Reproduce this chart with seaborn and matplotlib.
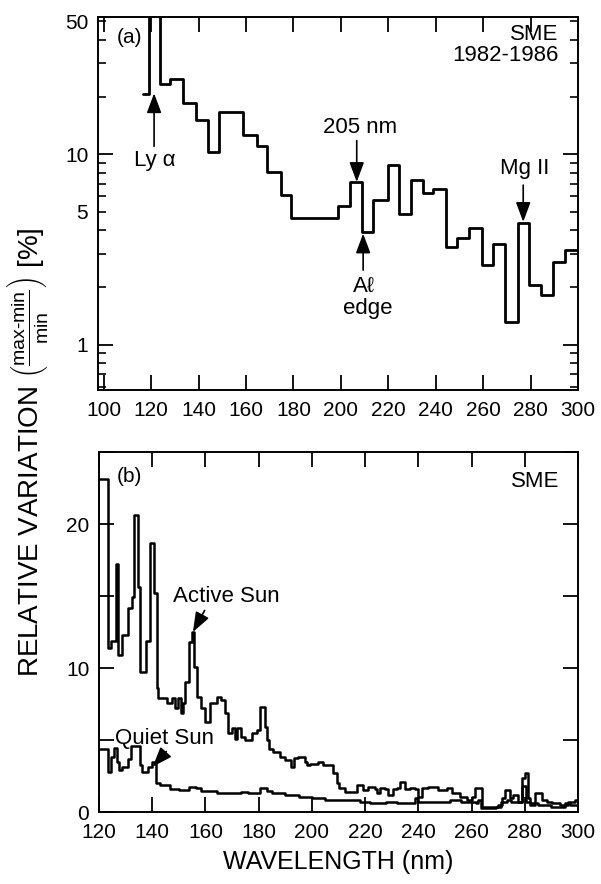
import numpy as np
import pandas as pd
import matplotlib
matplotlib.use("Agg")
import matplotlib.pyplot as plt
import seaborn as sns
from matplotlib.ticker import FixedLocator, FuncFormatter, NullFormatter

# ---------------- data ----------------
# panel (a): SME 1982-1986 relative variation, step bins (left edges) + values [%]
a_wl = [116.7, 118.9, 123.8, 128.0, 133.6, 139.0, 144.1, 148.8, 158.9, 164.6, 168.8,
        174.8, 179.0, 199.0, 203.9, 209.1, 213.6, 219.9, 224.5, 229.6, 234.5, 239.0,
        244.4, 248.9, 254.2, 259.4, 264.3, 269.2, 274.6, 279.5, 284.3, 289.6, 294.5]
a_var = [20.8, 60.0, 23.5, 24.8, 18.5, 15.1, 10.3, 16.7, 12.6, 11.1, 8.07,
         6.14, 4.60, 5.33, 7.15, 3.88, 5.73, 8.76, 4.84, 7.30, 6.26, 6.53,
         3.26, 3.61, 4.10, 2.61, 3.36, 1.32, 4.36, 2.05, 1.82, 2.72, 3.13]
a_end = 300.0

# panel (b): active sun
act_wl = [120.0, 123.3, 124.5, 126.3, 127.3, 128.5, 131.0, 132.3, 133.3, 134.5, 135.4, 137.5,
          139.2, 140.7, 141.7, 142.2, 145.4, 147.3, 148.6, 149.8, 150.8, 151.7, 152.3, 153.9,
          154.8, 155.8, 156.7, 158.4, 159.8, 161.7, 164.2, 165.8, 167.3, 168.6, 169.9, 171.1,
          171.7, 173.4, 174.9, 177.4, 179.4, 180.5, 182.4, 183.0, 183.9, 185.5, 188.0, 189.9,
          192.2, 193.4, 194.8, 197.4, 198.0, 199.3, 202.4, 204.3, 208.0, 209.3, 210.2, 212.4,
          216.8, 219.3, 221.2, 223.7, 224.3, 225.5, 227.4, 228.6, 230.5, 231.8, 233.1, 235.0,
          236.9, 238.8, 240.0, 241.3, 243.8, 247.5, 250.7, 252.6, 255.7, 258.2, 260.1, 261.4,
          263.8, 270.0, 271.3, 272.6, 274.5, 275.7, 277.6, 279.1, 279.9, 281.1, 282.0, 283.8,
          286.4, 288.2, 290.1, 293.3, 296.4, 298.9]
act_var = [23.1, 11.4, 11.9, 17.2, 10.9, 12.3, 14.2, 14.9, 20.6, 15.6, 9.7, 11.9,
           18.7, 15.2, 8.6, 7.9, 7.6, 7.9, 7.2, 7.9, 6.9, 7.6, 9.0, 11.8,
           12.5, 10.1, 8.0, 7.2, 6.25, 7.6, 8.0, 7.8, 6.9, 5.5, 5.8, 5.1,
           5.8, 5.2, 5.0, 5.5, 5.7, 7.3, 5.9, 5.0, 4.4, 4.2, 3.85, 3.6,
           3.15, 3.75, 3.85, 3.5, 3.26, 3.35, 3.5, 3.26, 2.7, 2.0, 1.67, 1.4,
           1.9, 1.53, 1.76, 1.58, 1.3, 1.65, 1.58, 1.2, 1.58, 1.65, 2.1, 1.58,
           1.65, 1.58, 1.06, 1.65, 1.76, 1.53, 1.65, 1.3, 1.06, 0.83, 1.06, 1.65,
           0.37, 0.49, 0.95, 1.53, 0.95, 1.2, 0.72, 2.34, 2.7, 0.95, 0.49, 1.3,
           0.83, 0.72, 0.6, 0.49, 0.72, 0.83]
# panel (b): quiet sun
qui_wl = [120.0, 123.3, 124.5, 125.8, 126.6, 127.5, 128.5, 131.0, 132.0, 135.4, 136.3, 138.5,
          139.8, 141.5, 143.0, 146.7, 150.0, 153.9, 156.5, 158.4, 164.4, 168.0, 173.4, 176.0,
          180.5, 183.0, 185.0, 190.0, 195.0, 200.0, 205.0, 212.0, 218.0, 222.0, 228.0, 232.0,
          238.8, 240.0, 246.0, 252.0, 256.0, 261.5, 262.5, 263.5, 269.0, 271.0, 273.5, 275.0,
          279.1, 280.5, 282.0, 285.0, 290.0, 295.0, 297.0]
qui_var = [4.4, 2.8, 3.85, 4.45, 3.5, 2.9, 3.15, 3.7, 4.6, 3.26, 2.8, 3.15,
           3.5, 2.0, 1.9, 1.6, 1.5, 1.75, 1.65, 1.45, 1.35, 1.35, 1.4, 1.3,
           1.65, 1.45, 1.3, 1.15, 1.06, 1.0, 0.85, 0.8, 0.72, 0.62, 0.7, 0.6,
           0.95, 0.7, 0.72, 0.83, 0.72, 0.6, 0.83, 0.28, 0.37, 0.72, 0.83, 0.72,
           1.8, 0.72, 0.6, 0.49, 0.37, 0.6, 0.49]
b_end = 300.0

a_xticks = [100, 120, 140, 160, 180, 200, 220, 240, 260, 280, 300]
b_xticks = [120, 140, 160, 180, 200, 220, 240, 260, 280, 300]
a_ylabels = [1, 5, 10, 50]
b_yticks = [0, 5, 10, 15, 20, 25]
b_ylabels = [0, 10, 20]


def steps(edges, vals, end):
    return pd.DataFrame({"wl": list(edges) + [end], "var": list(vals) + [vals[-1]]})


# ---------------- style ----------------
sns.set_style("ticks")
plt.rcParams["font.family"] = ["Liberation Sans", "DejaVu Sans"]
plt.rcParams["mathtext.fontset"] = "custom"
plt.rcParams["mathtext.rm"] = "Liberation Sans"
plt.rcParams["mathtext.it"] = "Liberation Sans:italic"
plt.rcParams["mathtext.bf"] = "Liberation Sans:bold"
plt.rcParams["axes.linewidth"] = 1.4
for key in ["text.color", "axes.labelcolor", "xtick.color", "ytick.color", "axes.edgecolor"]:
    plt.rcParams[key] = "black"

fig = plt.figure(figsize=(6.01, 8.84), dpi=100)
axa = fig.add_axes([98 / 601, 1 - 390 / 884, 480 / 601, 373 / 884])
axb = fig.add_axes([99 / 601, 1 - 812 / 884, 479 / 601, 360 / 884])

LBL = 15
ANN = 16
arrow = dict(arrowstyle="-|>,head_width=0.28,head_length=0.75", color="black",
             lw=1.2, shrinkA=0, shrinkB=0, mutation_scale=16)

# ---------- panel (a) ----------
sns.lineplot(data=steps(a_wl, a_var, a_end), x="wl", y="var", ax=axa,
             drawstyle="steps-post", color="black", lw=2.0, estimator=None, sort=False)
axa.set_yscale("log")
axa.set_xlim(97.6, 300)
axa.set_ylim(0.577, 52.6)
axa.xaxis.set_major_locator(FixedLocator(a_xticks))
axa.set_xticklabels([str(t) for t in a_xticks])
axa.yaxis.set_major_locator(FixedLocator([1, 10]))
axa.yaxis.set_minor_locator(FixedLocator([0.6, 0.7, 0.8, 0.9, 2, 3, 4, 5, 6, 7, 8, 9, 20, 30, 40, 50]))
axa.yaxis.set_major_formatter(FuncFormatter(lambda v, p: "%g" % v))
axa.yaxis.set_minor_formatter(FuncFormatter(lambda v, p: ("%g" % v) if v in a_ylabels else ""))
axa.tick_params(axis="both", which="major", direction="in", top=True, right=True,
                length=11, width=1.3, labelsize=LBL, pad=7, colors="black")
axa.tick_params(axis="y", which="minor", direction="in", left=True, right=True,
                length=6, width=1.2, labelsize=LBL, pad=7, colors="black")
axa.tick_params(axis="x", which="major", pad=8)
axa.set_xlabel("")
axa.set_ylabel("")

axa.text(0.040, 0.944, "(a)", transform=axa.transAxes, fontsize=LBL, ha="left", va="center")
axa.text(0.959, 0.925, "SME\n1982-1986", transform=axa.transAxes, fontsize=ANN,
         ha="right", va="center", linespacing=1.0)
axa.annotate("", xy=(121.25, 20.9), xytext=(121.25, 11.0), arrowprops=arrow)
axa.text(121.7, 9.3, "Ly α", fontsize=ANN, ha="center", va="center")
axa.annotate("", xy=(206.7, 7.15), xytext=(206.7, 11.8), arrowprops=arrow)
axa.text(208.1, 13.9, "205 nm", fontsize=ANN, ha="center", va="center")
axa.annotate("", xy=(209.4, 3.83), xytext=(209.4, 2.46), arrowprops=arrow)
axa.text(209.8, 2.01, "Aℓ", fontsize=ANN, ha="center", va="center")
axa.text(211.5, 1.55, "edge", fontsize=ANN, ha="center", va="center")
axa.annotate("", xy=(276.9, 4.41), xytext=(276.9, 6.88), arrowprops=arrow)
axa.text(277.6, 8.4, "Mg II", fontsize=ANN, ha="center", va="center")

# ---------- panel (b) ----------
sns.lineplot(data=steps(act_wl, act_var, b_end), x="wl", y="var", ax=axb,
             drawstyle="steps-post", color="black", lw=1.8, estimator=None, sort=False)
sns.lineplot(data=steps(qui_wl, qui_var, b_end), x="wl", y="var", ax=axb,
             drawstyle="steps-post", color="black", lw=1.8, estimator=None, sort=False)
axb.set_xlim(120, 300)
axb.set_ylim(0, 25)
axb.xaxis.set_major_locator(FixedLocator(b_xticks))
axb.set_xticklabels([str(t) for t in b_xticks])
axb.yaxis.set_major_locator(FixedLocator(b_yticks))
axb.set_yticklabels([str(t) if t in b_ylabels else "" for t in b_yticks])
axb.tick_params(axis="both", which="major", direction="in", top=True, right=True,
                length=11, width=1.3, labelsize=LBL, pad=7, colors="black")
axb.tick_params(axis="x", which="major", pad=8)
axb.set_xlabel("WAVELENGTH (nm)", fontsize=18, labelpad=6)
axb.set_ylabel("")

axb.text(0.037, 0.931, "(b)", transform=axb.transAxes, fontsize=LBL, ha="left", va="center")
axb.text(0.962, 0.9175, "SME", transform=axb.transAxes, fontsize=ANN, ha="right", va="center")
axb.text(167.9, 14.95, "Active Sun", fontsize=ANN, ha="center", va="center")
axb.annotate("", xy=(155.3, 12.5), xytext=(159.7, 14.0), arrowprops=arrow)
axb.text(144.8, 5.1, "Quiet Sun", fontsize=ANN, ha="center", va="center")
axb.annotate("", xy=(140.2, 3.15), xytext=(145.3, 4.2), arrowprops=arrow)

fig.text(0.047, 1 - 452 / 884,
         "RELATIVE VARIATION $\\left(\\frac{\\mathrm{max\u2010min}}{\\mathrm{min}}\\right)$ [%]",
         rotation=90, ha="center", va="center", fontsize=20)

fig.savefig("out.png", dpi=100)
